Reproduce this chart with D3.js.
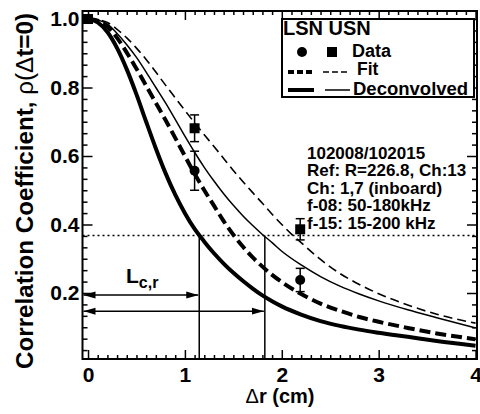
<!DOCTYPE html>
<html lang="en">
<head>
<meta charset="UTF-8">
<title>Correlation vs dr</title>
<script src="https://d3js.org/d3.v7.min.js"></script>
<style>
  body { margin: 0; background: #fff; }
  text { font-family: "Liberation Sans", Arial, sans-serif; font-weight: bold; fill: #000; }
</style>
</head>
<body>
<script>
// curves: [dr (cm), rho]
var lsnFit = [[0,1.0],[0.1,0.995],[0.2,0.978],[0.3,0.945],[0.4,0.902],[0.5,0.855],[0.6,0.805],[0.7,0.755],[0.8,0.705],[0.9,0.653],[1.0,0.6],[1.1,0.548],[1.2,0.5],[1.3,0.455],[1.4,0.41],[1.5,0.37],[1.6,0.335],[1.7,0.304],[1.8,0.277],[1.9,0.253],[2.0,0.232],[2.2,0.197],[2.4,0.169],[2.6,0.148],[2.8,0.13],[3.0,0.116],[3.3,0.098],[3.6,0.082],[4.0,0.065]]
var usnFit = [[0,1.0],[0.1,0.998],[0.2,0.99],[0.3,0.97],[0.4,0.945],[0.5,0.915],[0.6,0.882],[0.7,0.845],[0.8,0.807],[0.9,0.77],[1.0,0.733],[1.1,0.697],[1.2,0.662],[1.3,0.628],[1.4,0.593],[1.5,0.558],[1.6,0.525],[1.7,0.493],[1.8,0.462],[1.9,0.43],[2.0,0.4],[2.1,0.372],[2.2,0.347],[2.4,0.298],[2.6,0.257],[2.8,0.225],[3.0,0.198],[3.3,0.165],[3.6,0.138],[4.0,0.112]]
var lsnDeconv = [[0,1.0],[0.1,0.99],[0.2,0.962],[0.3,0.915],[0.4,0.853],[0.5,0.78],[0.6,0.7],[0.7,0.622],[0.8,0.55],[0.9,0.487],[1.0,0.433],[1.1,0.387],[1.2,0.35],[1.3,0.316],[1.4,0.286],[1.5,0.259],[1.6,0.235],[1.7,0.213],[1.8,0.193],[1.9,0.176],[2.0,0.161],[2.2,0.137],[2.4,0.118],[2.6,0.104],[2.8,0.093],[3.0,0.084],[3.3,0.072],[3.6,0.06],[4.0,0.046]]
var usnDeconv = [[0,1.0],[0.1,0.997],[0.2,0.985],[0.3,0.958],[0.4,0.925],[0.5,0.888],[0.6,0.845],[0.7,0.8],[0.8,0.755],[0.9,0.707],[1.0,0.658],[1.1,0.611],[1.2,0.567],[1.3,0.527],[1.4,0.49],[1.5,0.456],[1.6,0.425],[1.7,0.397],[1.8,0.371],[1.9,0.347],[2.0,0.322],[2.2,0.282],[2.4,0.248],[2.6,0.22],[2.8,0.197],[3.0,0.177],[3.3,0.151],[3.6,0.128],[4.0,0.098]]

// data points: x, value, error
var lsnData = [[0,1.0,0],[1.10,0.557,0.057],[2.19,0.238,0.034]]
var usnData = [[0,1.0,0],[1.10,0.681,0.039],[2.19,0.386,0.031]]

// correlation lengths and where the arrows sit
var lengths = [1.148, 1.825]
var arrowY = [0.194, 0.147]
var threshold = 0.368

var xMajor = [0,1,2,3,4]
var yMajor = [0.2,0.4,0.6,0.8,1.0]
var yLabels = ["0.2","0.4","0.6","0.8","1.0"]

var infoLines = ["102008/102015","Ref: R=226.8, Ch:13","Ch: 1,7 (inboard)","f-08: 50-180kHz","f-15: 15-200 kHz"]

var W = 480, H = 414
var pL = 82.5, pR = 477, pT = 11, pB = 359

var svg = d3.select("body").append("svg").attr("width", W).attr("height", H)

var x = d3.scaleLinear().domain([-0.057, 4.015]).range([pL, pR])
var y = d3.scaleLinear().domain([0.0073, 1.0234]).range([pB, pT])

// minor ticks
var xMinor = d3.range(0, 40).map(function (i) { return i / 10 }).filter(function (v) { return Math.round(v * 10) % 10 != 0 })
var yMinor = d3.range(1, 31).map(function (i) { return i / 30 }).filter(function (v) { return Math.round(v * 30) % 6 != 0 })

function axisGroup(axis, tx, ty) {
  var g = svg.append("g").attr("transform", "translate(" + tx + "," + ty + ")").call(axis)
  g.select(".domain").remove()
  g.selectAll("line").attr("stroke", "#000").attr("stroke-width", 1.5)
  return g
}

// bottom
axisGroup(d3.axisBottom(x).tickValues(xMajor).tickSize(-9).tickPadding(8).tickFormat(d3.format("d")), 0, pB)
  .selectAll("text").attr("font-size", 21).style("font-family", "Liberation Sans").style("font-weight", "bold")
axisGroup(d3.axisBottom(x).tickValues(xMinor).tickSize(-4).tickFormat(""), 0, pB)
// top
axisGroup(d3.axisTop(x).tickValues(xMajor).tickSize(-9).tickFormat(""), 0, pT)
axisGroup(d3.axisTop(x).tickValues(xMinor).tickSize(-4).tickFormat(""), 0, pT)
// left
axisGroup(d3.axisLeft(y).tickValues(yMajor).tickSize(-10).tickPadding(3).tickFormat(function (d, i) { return yLabels[i] }), pL, 0)
  .selectAll("text").attr("font-size", 21).style("font-family", "Liberation Sans").style("font-weight", "bold")
axisGroup(d3.axisLeft(y).tickValues(yMinor).tickSize(-5).tickFormat(""), pL, 0)
// right
axisGroup(d3.axisRight(y).tickValues(yMajor).tickSize(-10).tickFormat(""), pR, 0)
axisGroup(d3.axisRight(y).tickValues(yMinor).tickSize(-5).tickFormat(""), pR, 0)

svg.append("rect").attr("x", pL).attr("y", pT).attr("width", pR - pL).attr("height", pB - pT)
  .attr("fill", "none").attr("stroke", "#000").attr("stroke-width", 2)

// threshold + correlation length markers
svg.append("line").attr("x1", pL).attr("x2", pR).attr("y1", y(threshold)).attr("y2", y(threshold))
  .attr("stroke", "#000").attr("stroke-width", 1.5).attr("stroke-dasharray", "2,3")
lengths.forEach(function (L) {
  svg.append("line").attr("x1", x(L)).attr("x2", x(L)).attr("y1", y(threshold)).attr("y2", pB)
    .attr("stroke", "#000").attr("stroke-width", 1.5)
})

var defs = svg.append("defs")
defs.append("marker").attr("id", "ah").attr("viewBox", "0 0 12 8").attr("refX", 12).attr("refY", 4)
  .attr("markerWidth", 12).attr("markerHeight", 8).attr("markerUnits", "userSpaceOnUse").attr("orient", "auto-start-reverse")
  .append("path").attr("d", "M0,0.5 L12,4 L0,7.5 Z").attr("fill", "#000")

lengths.forEach(function (L, i) {
  svg.append("line").attr("x1", pL + 1).attr("x2", x(L) - 1).attr("y1", y(arrowY[i])).attr("y2", y(arrowY[i]))
    .attr("stroke", "#000").attr("stroke-width", 1.5)
    .attr("marker-start", "url(#ah)").attr("marker-end", "url(#ah)")
})

var lt = svg.append("text").attr("x", 126).attr("y", 283).attr("font-size", 21)
lt.append("tspan").text("L")
lt.append("tspan").attr("font-size", 16).attr("dy", 5).text("c,r")

// curves
var line = d3.line().x(function (d) { return x(d[0]) }).y(function (d) { return y(d[1]) }).curve(d3.curveMonotoneX)
var curves = [
  { data: usnFit, w: 1.6, dash: "9,5" },
  { data: usnDeconv, w: 1.5, dash: null },
  { data: lsnFit, w: 4, dash: "11,5" },
  { data: lsnDeconv, w: 4, dash: null }
]
curves.forEach(function (c) {
  svg.append("path").datum(c.data).attr("d", line).attr("fill", "none")
    .attr("stroke", "#000").attr("stroke-width", c.w).attr("stroke-dasharray", c.dash)
})

// error bars + markers
function errorBars(data) {
  data.filter(function (d) { return d[2] > 0 }).forEach(function (d) {
    var g = svg.append("g").attr("stroke", "#000").attr("stroke-width", 1.5)
    g.append("line").attr("x1", x(d[0])).attr("x2", x(d[0])).attr("y1", y(d[1] - d[2])).attr("y2", y(d[1] + d[2]))
    g.append("line").attr("x1", x(d[0]) - 4.5).attr("x2", x(d[0]) + 4.5).attr("y1", y(d[1] - d[2])).attr("y2", y(d[1] - d[2]))
    g.append("line").attr("x1", x(d[0]) - 4.5).attr("x2", x(d[0]) + 4.5).attr("y1", y(d[1] + d[2])).attr("y2", y(d[1] + d[2]))
  })
}
errorBars(lsnData)
errorBars(usnData)
svg.selectAll(".lsnpt").data(lsnData).enter().append("circle")
  .attr("cx", function (d) { return x(d[0]) }).attr("cy", function (d) { return y(d[1]) }).attr("r", 5).attr("fill", "#000")
svg.selectAll(".usnpt").data(usnData).enter().append("rect")
  .attr("x", function (d) { return x(d[0]) - 5 }).attr("y", function (d) { return y(d[1]) - 5 })
  .attr("width", 10).attr("height", 10).attr("fill", "#000")

// legend
var lg = svg.append("g")
lg.append("rect").attr("x", 282).attr("y", 19).attr("width", 192).attr("height", 78)
  .attr("fill", "#fff").attr("stroke", "#000").attr("stroke-width", 2)
lg.append("text").attr("x", 283).attr("y", 35).attr("font-size", 20).text("LSN USN")
lg.append("circle").attr("cx", 302).attr("cy", 52).attr("r", 5)
lg.append("rect").attr("x", 327).attr("y", 47).attr("width", 10).attr("height", 10)
lg.append("text").attr("x", 352).attr("y", 57).attr("font-size", 18).text("Data")
lg.append("line").attr("x1", 288).attr("x2", 313).attr("y1", 72).attr("y2", 72)
  .attr("stroke", "#000").attr("stroke-width", 4).attr("stroke-dasharray", "6,3")
lg.append("line").attr("x1", 323).attr("x2", 350).attr("y1", 72).attr("y2", 72)
  .attr("stroke", "#000").attr("stroke-width", 1.5).attr("stroke-dasharray", "6,3")
lg.append("text").attr("x", 357).attr("y", 75).attr("font-size", 17.5).text("Fit")
lg.append("line").attr("x1", 288).attr("x2", 314).attr("y1", 90).attr("y2", 90)
  .attr("stroke", "#000").attr("stroke-width", 4)
lg.append("line").attr("x1", 325).attr("x2", 350).attr("y1", 90).attr("y2", 90)
  .attr("stroke", "#000").attr("stroke-width", 1.5)
lg.append("text").attr("x", 353).attr("y", 95).attr("font-size", 18.5).text("Deconvolved")

// info block
svg.selectAll(".info").data(infoLines).enter().append("text")
  .attr("x", 307).attr("y", function (d, i) { return 159 + i * 17.4 }).attr("font-size", 17)
  .text(function (d) { return d })

// axis titles
var xt = svg.append("text").attr("x", 280).attr("y", 403).attr("text-anchor", "middle").attr("font-size", 20)
xt.append("tspan").style("font-weight", "normal").text("\u0394")
xt.append("tspan").text("r (cm)")

var yt = svg.append("text").attr("transform", "translate(33,191) rotate(-90)").attr("text-anchor", "middle")
  .attr("font-size", 23).attr("textLength", 356).attr("lengthAdjust", "spacingAndGlyphs")
yt.append("tspan").text("Correlation Coefficient, ")
yt.append("tspan").style("font-weight", "normal").text("\u03c1(\u0394")
yt.append("tspan").text("t=0)")
</script>
</body>
</html>
